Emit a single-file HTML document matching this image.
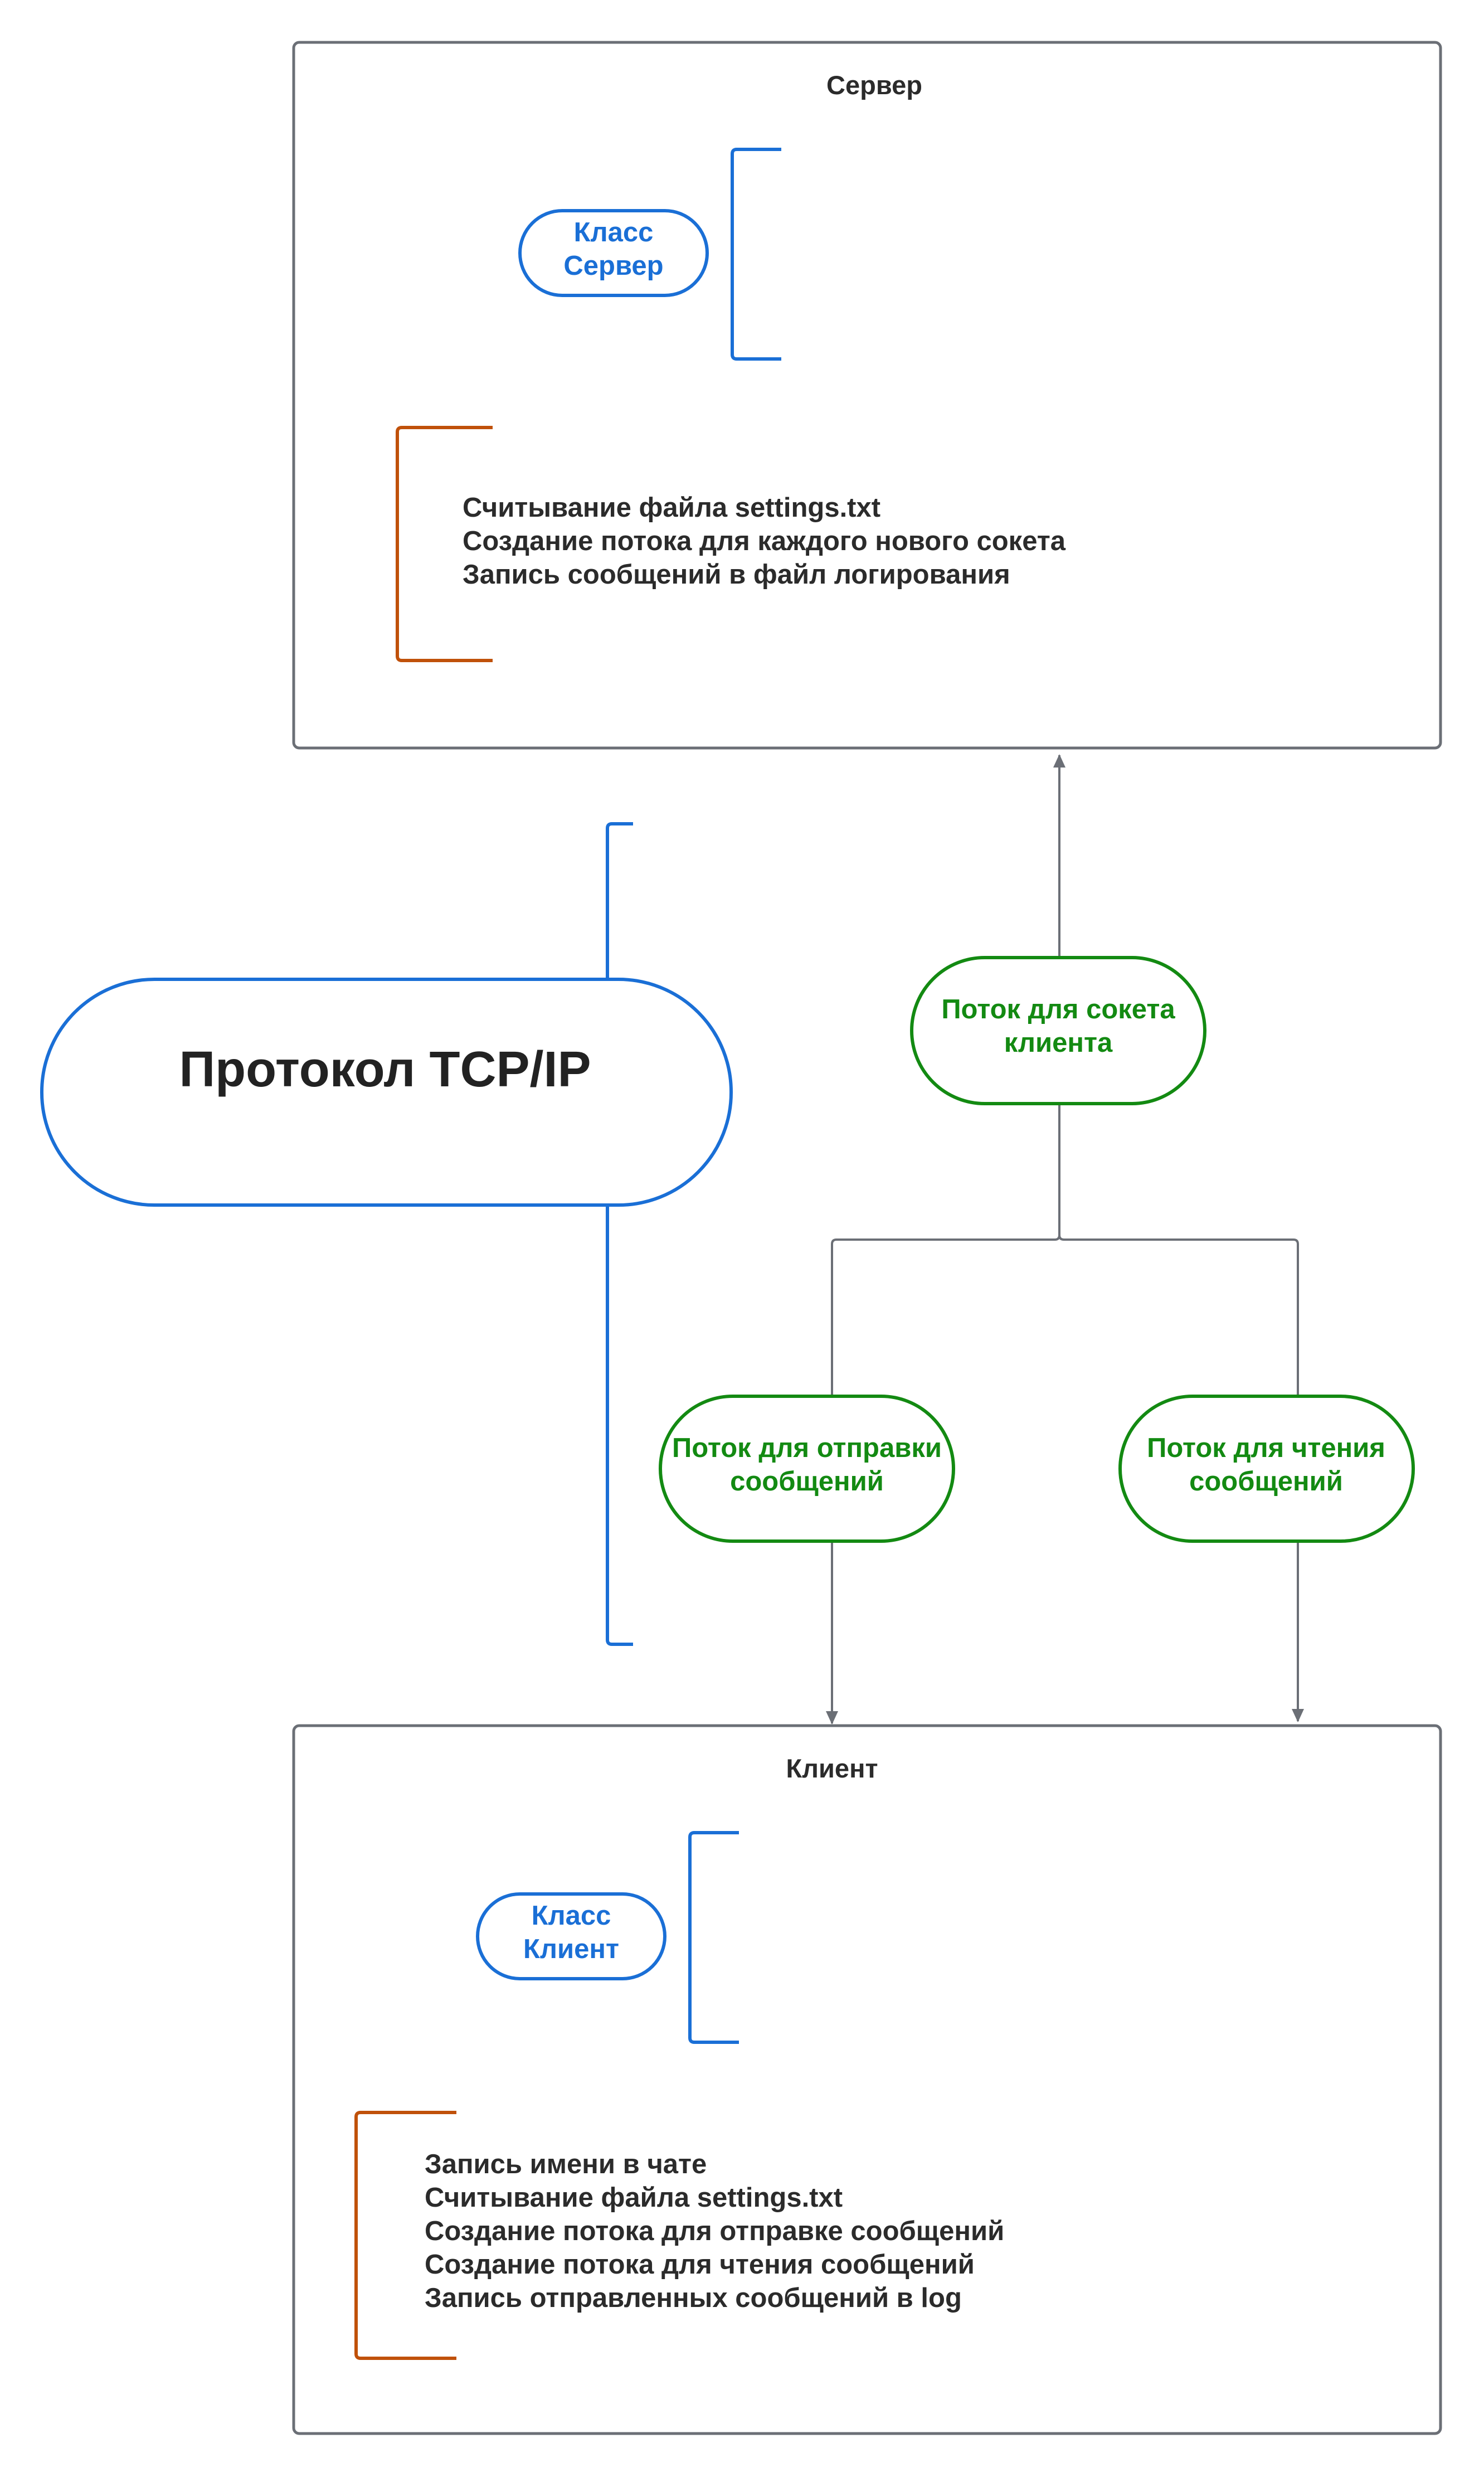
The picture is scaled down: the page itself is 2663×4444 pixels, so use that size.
<!DOCTYPE html>
<html><head><meta charset="utf-8"><style>html,body{margin:0;padding:0;background:#fff}svg{display:block}text{font-family:"Liberation Sans",sans-serif;font-weight:bold}</style></head><body>
<svg width="2663" height="4444" viewBox="0 0 2663 4444" xmlns="http://www.w3.org/2000/svg">
<defs>
<marker id="ah" markerWidth="24" markerHeight="30" refX="22" refY="15" orient="auto" markerUnits="userSpaceOnUse"><path d="M0,4 L24,15 L0,26 z" fill="#6b6f76"/></marker></defs>
<g fill="none" stroke="#6b6f76" stroke-width="5">
<rect x="527" y="76" width="2058" height="1266" rx="10"/>
<rect x="527" y="3096" width="2058" height="1270" rx="10"/>
</g>
<g fill="none" stroke="#6b6f76" stroke-width="4">
<path d="M1901 1717 V1355" marker-end="url(#ah)"/>
<path d="M1901 1980 V2216 q0 8 -8 8 H1501 q-8 0 -8 8 V2504"/>
<path d="M1901 2216 q0 8 8 8 H2321 q8 0 8 8 V2504"/>
<path d="M1493 2765 V3092" marker-end="url(#ah)"/>
<path d="M2329 2765 V3088" marker-end="url(#ah)"/>
</g>
<g fill="none" stroke="#1a6fd6" stroke-width="6">
<path d="M1402 268 H1322 q-8 0 -8 8 V636 q0 8 8 8 H1402"/>
<path d="M1136 1478 H1098 q-8 0 -8 8 V2942 q0 8 8 8 H1136"/>
<path d="M1326 3288 H1246 q-8 0 -8 8 V3656 q0 8 8 8 H1326"/>
<rect x="933" y="378" width="336" height="152" rx="76" fill="#fff"/>
<rect x="857" y="3398" width="336" height="152" rx="76" fill="#fff"/>
<rect x="75" y="1757" width="1237" height="405" rx="202" fill="#fff"/>
</g>
<g fill="none" stroke="#c0510a" stroke-width="6">
<path d="M884 767 H721 q-8 0 -8 8 V1177 q0 8 8 8 H884"/>
<path d="M819 3790 H647 q-8 0 -8 8 V4223 q0 8 8 8 H819"/>
</g>
<g fill="#fff" stroke="#138a12" stroke-width="6">
<rect x="1636" y="1718" width="526" height="262" rx="131"/>
<rect x="1185" y="2505" width="526" height="260" rx="130"/>
<rect x="2010" y="2505" width="526" height="260" rx="130"/>
</g>
<g fill="#2b2b2b" font-size="47">
<text x="1569" y="169" text-anchor="middle">Сервер</text>
<text x="1493" y="3189" text-anchor="middle">Клиент</text>
</g>
<g fill="#2b2b2b" font-size="49">
<text x="830" y="927">Считывание файла settings.txt</text>
<text x="830" y="987">Создание потока для каждого нового сокета</text>
<text x="830" y="1047">Запись сообщений в файл логирования</text>
<text x="762" y="3899">Запись имени в чате</text>
<text x="762" y="3959">Считывание файла settings.txt</text>
<text x="762" y="4019">Создание потока для отправке сообщений</text>
<text x="762" y="4079">Создание потока для чтения сообщений</text>
<text x="762" y="4139">Запись отправленных сообщений в log</text>
</g>
<text x="691" y="1949" text-anchor="middle" font-size="90" fill="#222">Протокол TCP/IP</text>
<g fill="#1a6fd6" font-size="49" text-anchor="middle">
<text x="1101" y="433">Класс</text><text x="1101" y="493">Сервер</text>
<text x="1025" y="3453">Класс</text><text x="1025" y="3513">Клиент</text>
</g>
<g fill="#138a12" font-size="49" text-anchor="middle">
<text x="1899" y="1827">Поток для сокета</text><text x="1899" y="1887">клиента</text>
<text x="1448" y="2614">Поток для отправки</text><text x="1448" y="2674">сообщений</text>
<text x="2272" y="2614">Поток для чтения</text><text x="2272" y="2674">сообщений</text>
</g>
</svg>
</body></html>
